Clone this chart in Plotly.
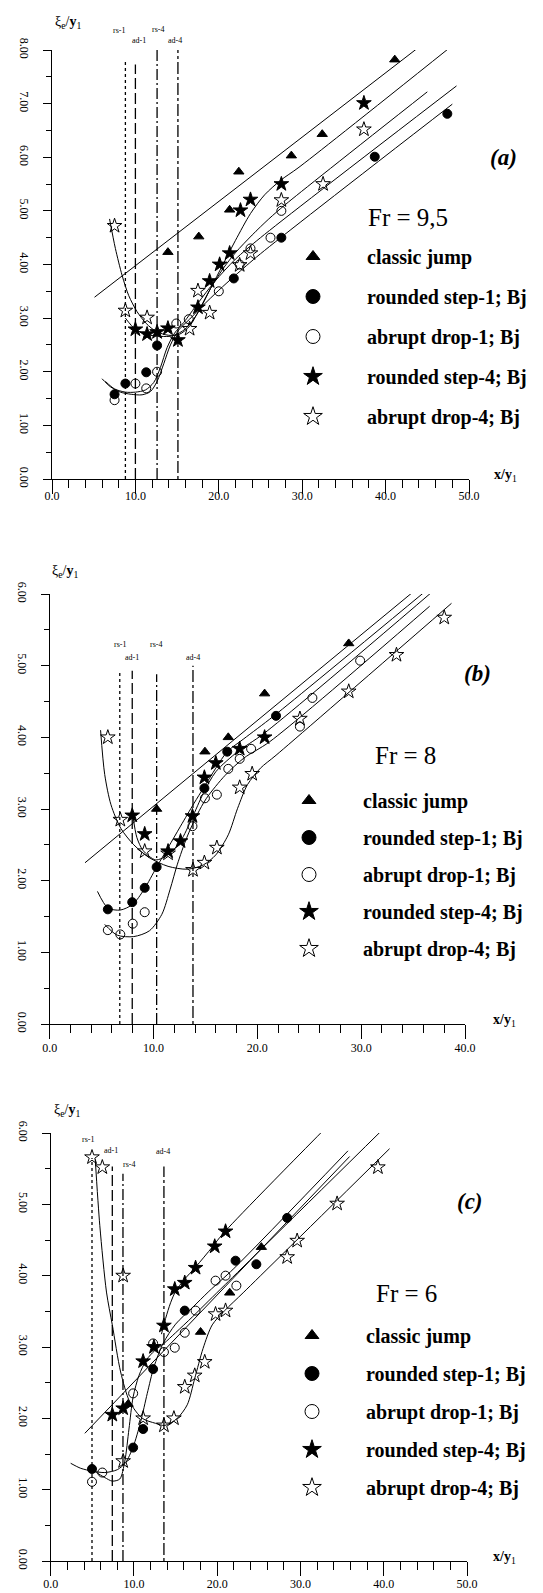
import plotly.graph_objects as go

W, H = 543, 1593
FONT = "Liberation Serif"

# ---------------- Panel (a) : Fr = 9,5 ----------------
A_cj_x = [13.9, 17.6, 21.3, 22.4, 28.7, 32.4, 41.1]
A_cj_y = [4.23, 4.52, 5.02, 5.73, 6.03, 6.43, 7.82]
A_rs1_x = [7.5, 8.8, 11.3, 12.6, 21.8, 27.5, 38.7, 47.4]
A_rs1_y = [1.58, 1.78, 1.99, 2.49, 3.74, 4.50, 6.01, 6.81]
A_ad1_x = [7.5, 10.0, 11.3, 12.6, 14.9, 16.4, 20.0, 22.5, 23.8, 26.2, 27.5]
A_ad1_y = [1.47, 1.78, 1.69, 2.00, 2.90, 2.98, 3.50, 4.00, 4.30, 4.50, 5.00]
A_rs4_x = [10.0, 11.4, 12.6, 13.9, 15.1, 17.5, 18.9, 20.1, 21.3, 22.6, 23.8, 27.5, 37.4]
A_rs4_y = [2.79, 2.70, 2.74, 2.81, 2.59, 3.20, 3.69, 4.00, 4.21, 5.01, 5.21, 5.50, 7.01]
A_ad4_x = [7.5, 8.8, 11.4, 16.5, 17.5, 18.9, 22.5, 23.8, 27.5, 32.5, 37.4]
A_ad4_y = [4.72, 3.14, 3.01, 2.80, 3.51, 3.10, 3.99, 4.21, 5.20, 5.50, 6.52]

A_cj_cx = [5.1, 44.3]
A_cj_cy = [3.39, 8.09]
A_rs1_cx = [6.0, 7.0, 8.2, 9.5, 10.8, 11.8, 12.6, 13.4, 14.2, 15.2, 16.5, 18.0, 20.0, 22.0, 25.0, 48.0]
A_rs1_cy = [1.87, 1.72, 1.62, 1.58, 1.57, 1.63, 1.82, 2.15, 2.50, 2.78, 2.98, 3.22, 3.52, 3.80, 4.20, 6.99]
A_ad1_cx = [6.4, 7.5, 8.8, 10.0, 11.2, 12.2, 13.0, 13.8, 14.7, 15.8, 17.5, 19.5, 22.0, 25.0, 48.5]
A_ad1_cy = [1.82, 1.68, 1.62, 1.62, 1.66, 1.80, 2.08, 2.45, 2.72, 2.92, 3.28, 3.68, 4.10, 4.50, 7.33]
A_rs4_cx = [8.8, 10.0, 11.5, 13.0, 14.5, 16.0, 17.5, 19.0, 20.5, 22.0, 23.8, 25.5, 27.5, 29.5, 47.5]
A_rs4_cy = [3.00, 2.79, 2.69, 2.66, 2.67, 2.80, 3.10, 3.55, 4.00, 4.45, 4.95, 5.30, 5.58, 5.80, 8.02]
A_ad4_cx = [6.9, 7.6, 8.4, 9.2, 10.2, 11.3, 12.5, 14.0, 15.3, 16.5, 17.8, 19.0, 20.5, 22.0, 24.0, 26.0, 28.0, 45.0]
A_ad4_cy = [4.85, 4.30, 3.80, 3.42, 3.12, 2.90, 2.75, 2.68, 2.70, 2.85, 3.20, 3.55, 3.92, 4.22, 4.55, 4.85, 5.12, 7.22]

A_vx = [8.8, 10.0, 12.6, 15.1]
A_vtop = [7.82, 7.73, 8.0, 8.0]
A_lx = [8.0, 10.45, 12.75, 14.8]
A_ly = [8.36, 8.18, 8.38, 8.18]

# ---------------- Panel (b) : Fr = 8 ----------------
B_cj_x = [10.3, 14.95, 17.2, 20.7, 28.8]
B_cj_y = [3.0, 3.8, 4.0, 4.61, 5.31]
B_rs1_x = [5.6, 7.95, 9.15, 10.3, 14.9, 17.1, 21.8]
B_rs1_y = [1.6, 1.7, 1.9, 2.19, 3.29, 3.8, 4.3]
B_ad1_x = [5.6, 6.8, 8.0, 9.15, 13.75, 14.95, 16.1, 17.2, 18.3, 19.4, 24.1, 25.3, 29.9]
B_ad1_y = [1.31, 1.25, 1.40, 1.56, 2.76, 3.15, 3.20, 3.56, 3.70, 3.84, 4.15, 4.55, 5.07]
B_rs4_x = [7.95, 9.15, 11.4, 12.6, 13.75, 14.9, 16.0, 18.3, 20.7]
B_rs4_y = [2.91, 2.65, 2.41, 2.55, 2.90, 3.44, 3.64, 3.84, 4.00]
B_ad4_x = [5.6, 6.8, 9.15, 11.4, 13.8, 14.9, 16.1, 18.3, 19.5, 24.1, 28.8, 33.4, 38.0]
B_ad4_y = [4.0, 2.85, 2.41, 2.38, 2.15, 2.25, 2.46, 3.30, 3.49, 4.26, 4.64, 5.15, 5.67]

B_cj_cx = [3.4, 37.6]
B_cj_cy = [2.25, 6.34]
B_rs1_cx = [4.6, 5.6, 6.8, 8.0, 9.1, 10.3, 11.4, 12.6, 13.9, 14.8, 16.0, 17.1, 18.7, 21.6, 37.7]
B_rs1_cy = [1.85, 1.62, 1.59, 1.67, 1.88, 2.19, 2.46, 2.76, 3.08, 3.29, 3.57, 3.80, 3.98, 4.30, 6.22]
B_ad1_cx = [5.3, 6.5, 8.1, 9.6, 10.8, 11.6, 12.3, 13.2, 14.2, 15.1, 16.9, 18.7, 21.2, 36.6]
B_ad1_cy = [1.39, 1.24, 1.22, 1.30, 1.53, 1.88, 2.23, 2.60, 2.92, 3.15, 3.47, 3.71, 3.94, 5.83]
B_rs4_cx = [8.0, 8.4, 9.0, 10.2, 11.4, 12.6, 13.7, 14.8, 16.0, 18.1, 20.6, 37.0]
B_rs4_cy = [2.92, 2.60, 2.42, 2.29, 2.36, 2.55, 2.87, 3.22, 3.52, 3.80, 4.05, 6.05]
B_ad4_cx = [4.9, 5.3, 5.9, 6.85, 8.1, 9.6, 11.4, 13.25, 14.8, 16.0, 17.2, 18.1, 19.05, 20.3, 21.8, 38.7]
B_ad4_cy = [4.10, 3.48, 3.06, 2.73, 2.50, 2.32, 2.20, 2.16, 2.22, 2.36, 2.64, 3.01, 3.34, 3.57, 3.75, 5.87]

B_vx = [6.75, 7.95, 10.3, 13.8]
B_vtop = [4.91, 4.93, 4.88, 5.0]
B_lx = [6.75, 7.95, 10.2, 13.8]
B_ly = [5.30, 5.12, 5.30, 5.12]

# ---------------- Panel (c) : Fr = 6 ----------------
C_cj_x = [9.3, 18.0, 21.5, 25.3]
C_cj_y = [2.2, 3.21, 3.76, 4.4]
C_rs1_x = [4.96, 9.9, 11.1, 12.3, 16.1, 22.2, 24.7, 28.4]
C_rs1_y = [1.29, 1.59, 1.85, 2.69, 3.51, 4.21, 4.16, 4.81]
C_ad1_x = [4.96, 6.2, 9.9, 12.3, 13.6, 14.9, 16.1, 17.4, 19.8, 21.0, 22.3]
C_ad1_y = [1.11, 1.24, 2.35, 3.05, 2.93, 2.99, 3.20, 3.51, 3.93, 4.00, 3.86]
C_rs4_x = [7.4, 8.7, 11.1, 12.4, 13.6, 14.9, 16.1, 17.4, 19.7, 21.0]
C_rs4_y = [2.05, 2.14, 2.80, 3.00, 3.30, 3.81, 3.90, 4.11, 4.41, 4.62]
C_ad4_x = [4.96, 6.2, 8.7, 8.7, 11.1, 13.6, 14.8, 16.1, 17.3, 18.5, 19.8, 21.0, 28.4, 29.6, 34.4, 39.3]
C_ad4_y = [5.66, 5.52, 4.0, 1.40, 2.0, 1.90, 2.00, 2.44, 2.60, 2.79, 3.46, 3.51, 4.26, 4.49, 5.01, 5.52]

C_cj_cx = [4.1, 35.9]
C_cj_cy = [1.79, 5.67]
C_rs1_cx = [2.4, 3.6, 5.0, 6.5, 8.0, 9.0, 9.9, 10.8, 11.6, 12.4, 13.5, 15.0, 17.0, 19.0, 22.0, 35.7]
C_rs1_cy = [1.37, 1.30, 1.26, 1.24, 1.28, 1.38, 1.60, 1.95, 2.35, 2.72, 3.05, 3.32, 3.55, 3.78, 4.10, 5.75]
C_ad1_cx = [4.6, 5.5, 6.5, 7.4, 8.3, 8.9, 9.4, 9.9, 10.6, 11.5, 12.5, 13.6, 15.0, 17.0, 19.0, 21.0, 39.8]
C_ad1_cy = [1.32, 1.24, 1.17, 1.12, 1.15, 1.40, 1.85, 2.30, 2.60, 2.82, 2.95, 3.05, 3.20, 3.42, 3.65, 3.88, 6.04]
C_rs4_cx = [13.3, 13.8, 14.4, 15.0, 16.0, 17.4, 19.4, 20.7, 37.0]
C_rs4_cy = [3.18, 3.40, 3.62, 3.78, 3.94, 4.12, 4.40, 4.59, 6.54]
C_ad4_cx = [5.35, 5.9, 6.7, 7.4, 8.4, 9.5, 11.0, 12.6, 13.7, 15.2, 16.4, 17.3, 18.3, 19.4, 20.9, 23.2, 40.7]
C_ad4_cy = [5.63, 4.70, 3.77, 3.31, 2.65, 2.23, 2.00, 1.93, 1.90, 2.00, 2.19, 2.56, 2.98, 3.31, 3.51, 3.77, 5.78]

C_vx = [4.96, 7.4, 8.68, 13.6]
C_vtop = [5.65, 5.53, 5.43, 5.53]
C_lx = [4.5, 7.3, 9.4, 13.5]
C_ly = [5.91, 5.75, 5.56, 5.74]

V_LABELS = ["rs-1", "ad-1", "rs-4", "ad-4"]
V_DASH = ["3px,3px", "11px,4px", "11px,3px,2px,3px", "3px,3px,12px,3px"]

SERIES_NAMES = ["classic jump", "rounded step-1; Bj", "abrupt drop-1; Bj",
                "rounded step-4; Bj", "abrupt drop-4; Bj"]
SYMBOLS = ["triangle-up", "circle", "circle-open", "star", "star-open"]
SIZES = [9, 9, 9, 11, 11]
LEG_SIZES = [12, 14, 14, 14, 14]

# pixel frames of the three panels (left, right, bottom, top) and axis ranges
FRAMES = [(44, 461, 471, 42), (41.7, 457, 1016, 586), (42.7, 459, 1553, 1125)]
XMAX = [50, 40, 50]
YMAX = [8, 6, 6]
X_STANDOFF = [-9, -2, -3]

panels = [
    dict(key="", pts=[(A_cj_x, A_cj_y), (A_rs1_x, A_rs1_y), (A_ad1_x, A_ad1_y), (A_rs4_x, A_rs4_y), (A_ad4_x, A_ad4_y)],
         curves=[(A_cj_cx, A_cj_cy), (A_rs1_cx, A_rs1_cy), (A_ad1_cx, A_ad1_cy), (A_rs4_cx, A_rs4_cy), (A_ad4_cx, A_ad4_cy)],
         vx=A_vx, vtop=A_vtop, lx=A_lx, ly=A_ly, legend="legend"),
    dict(key="2", pts=[(B_cj_x, B_cj_y), (B_rs1_x, B_rs1_y), (B_ad1_x, B_ad1_y), (B_rs4_x, B_rs4_y), (B_ad4_x, B_ad4_y)],
         curves=[(B_cj_cx, B_cj_cy), (B_rs1_cx, B_rs1_cy), (B_ad1_cx, B_ad1_cy), (B_rs4_cx, B_rs4_cy), (B_ad4_cx, B_ad4_cy)],
         vx=B_vx, vtop=B_vtop, lx=B_lx, ly=B_ly, legend="legend2"),
    dict(key="3", pts=[(C_cj_x, C_cj_y), (C_rs1_x, C_rs1_y), (C_ad1_x, C_ad1_y), (C_rs4_x, C_rs4_y), (C_ad4_x, C_ad4_y)],
         curves=[(C_cj_cx, C_cj_cy), (C_rs1_cx, C_rs1_cy), (C_ad1_cx, C_ad1_cy), (C_rs4_cx, C_rs4_cy), (C_ad4_cx, C_ad4_cy)],
         vx=C_vx, vtop=C_vtop, lx=C_lx, ly=C_ly, legend="legend3"),
]

fig = go.Figure()
annotations = []

for k, p in enumerate(panels):
    xa = "x" + p["key"]
    ya = "y" + p["key"]
    l, r, b, t = FRAMES[k]
    yd0, yd1 = 1 - b / H, 1 - t / H
    # vertical marker lines
    for i in range(4):
        fig.add_trace(go.Scatter(x=[p["vx"][i], p["vx"][i]], y=[0, p["vtop"][i]], mode="lines",
                                 line=dict(color="black", width=1.3, dash=V_DASH[i]),
                                 xaxis=xa, yaxis=ya, showlegend=False, hoverinfo="skip"))
        # label: x in data units, y converted to paper so it may sit above the axis range
        ypaper = yd0 + (p["ly"][i] / YMAX[k]) * (yd1 - yd0)
        annotations.append(dict(x=p["lx"][i], y=ypaper, xref=xa, yref="paper", text=V_LABELS[i],
                                xanchor="center", yanchor="middle",
                                showarrow=False, font=dict(family=FONT, size=8, color="black")))
    # fitted curves
    for cx, cy in p["curves"]:
        fig.add_trace(go.Scatter(x=cx, y=cy, mode="lines",
                                 line=dict(color="black", width=1, shape="spline", smoothing=0.8),
                                 xaxis=xa, yaxis=ya, showlegend=False, hoverinfo="skip"))
    # data points
    for j, (sx, sy) in enumerate(p["pts"]):
        fig.add_trace(go.Scatter(x=sx, y=sy, mode="markers", name=SERIES_NAMES[j],
                                 marker=dict(symbol=SYMBOLS[j], size=SIZES[j], color="black",
                                             line=dict(color="black", width=1)),
                                 xaxis=xa, yaxis=ya, showlegend=False, cliponaxis=False))
    # legend entries
    for j in range(5):
        fig.add_trace(go.Scatter(x=[None], y=[None], mode="markers", name=SERIES_NAMES[j],
                                 marker=dict(symbol=SYMBOLS[j], size=LEG_SIZES[j], color="black",
                                             line=dict(color="black", width=1)),
                                 xaxis=xa, yaxis=ya, showlegend=True, legend=p["legend"],
                                 legendgroup=p["legend"] + str(j)))


tickfont = dict(family=FONT, size=12, color="black")


def xaxis_cfg(k, anchor):
    l, r, b, t = FRAMES[k]
    return dict(domain=[l / W, r / W], range=[0, XMAX[k]], anchor=anchor, automargin=False,
                showline=True, linecolor="black", linewidth=1.2,
                ticks="outside", ticklen=14, tickwidth=1.2, tickcolor="black", showgrid=False,
                zeroline=False, tickformat=".1f", dtick=10, tick0=0, tickfont=tickfont,
                ticklabelstandoff=X_STANDOFF[k],
                minor=dict(dtick=2, ticks="outside", ticklen=8, tickwidth=1, tickcolor="black", showgrid=False))


def yaxis_cfg(k, anchor):
    l, r, b, t = FRAMES[k]
    return dict(domain=[1 - b / H, 1 - t / H], range=[0, YMAX[k]], anchor=anchor, automargin=False,
                showline=True, linecolor="black", linewidth=1.2,
                ticks="outside", ticklen=8, tickwidth=1.2, tickcolor="black", showgrid=False,
                zeroline=False, tickformat=".2f", dtick=1, tick0=0, tickangle=90, tickfont=tickfont,
                ticklabelstandoff=8,
                minor=dict(dtick=0.5, ticks="outside", ticklen=5, tickwidth=1, tickcolor="black", showgrid=False))


def leg(x_px, top_px, gap):
    return dict(x=x_px / W, y=1 - top_px / H, xanchor="left", yanchor="top", bgcolor="rgba(0,0,0,0)",
                font=dict(family=FONT, size=20, color="black", weight="bold"),
                tracegroupgap=gap, itemwidth=98, itemsizing="trace")


fig.update_layout(
    width=W, height=H, margin=dict(l=0, r=0, t=0, b=0, autoexpand=False),
    paper_bgcolor="white", plot_bgcolor="white",
    xaxis=xaxis_cfg(0, "y"), yaxis=yaxis_cfg(0, "x"),
    xaxis2=xaxis_cfg(1, "y2"), yaxis2=yaxis_cfg(1, "x2"),
    xaxis3=xaxis_cfg(2, "y3"), yaxis3=yaxis_cfg(2, "x3"),
    legend=leg(251, 229, 11),
    legend2=leg(247, 773, 8),
    legend3=leg(250, 1308, 9),
    showlegend=True,
)

# panel texts (paper coordinates from pixel positions)
texts = [
    ("<b><i>(a)</i></b>", 495, 150, 23), ("Fr = 9,5", 400, 209, 25),
    ("<b><i>(b)</i></b>", 469, 665, 23), ("Fr = 8", 397, 747, 25),
    ("<b><i>(c)</i></b>", 462, 1193, 23), ("Fr = 6", 398, 1285, 25),
]
for t, px, py, s in texts:
    annotations.append(dict(x=px / W, y=1 - py / H, xref="paper", yref="paper", text=t, showarrow=False,
                            xanchor="center", yanchor="middle",
                            font=dict(family=FONT, size=s, color="black")))

ytitle = "ξ<sub>e</sub>/<b>y</b><sub>1</sub>"
xtitle = "<b>x/y</b><sub>1</sub>"
for px, py in [(60, 15), (57, 563), (59, 1102)]:
    annotations.append(dict(x=px / W, y=1 - py / H, xref="paper", yref="paper", text=ytitle,
                            xanchor="center", yanchor="middle",
                            showarrow=False, font=dict(family=FONT, size=14, color="black")))
for px, py in [(497, 468), (496, 1012), (496, 1549)]:
    annotations.append(dict(x=px / W, y=1 - py / H, xref="paper", yref="paper", text=xtitle,
                            xanchor="center", yanchor="middle",
                            showarrow=False, font=dict(family=FONT, size=14, color="black")))

fig.update_layout(annotations=annotations)
fig.write_html("out.html")
